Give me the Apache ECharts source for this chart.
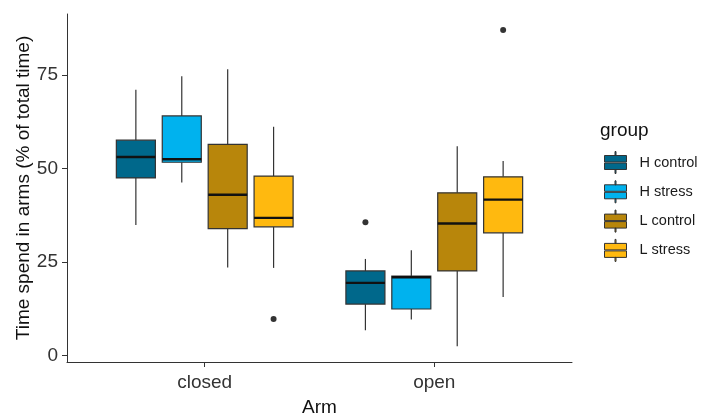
<!DOCTYPE html>
<html><head><meta charset="utf-8">
<script src="https://cdn.jsdelivr.net/npm/echarts@6/dist/echarts.min.js"></script>
<style>html,body{margin:0;padding:0;background:#fff}#c{width:702px;height:414px}</style>
</head><body><div id="c"></div>
<script>
// ---- data ----
const arms = ['closed', 'open'];
const groups = ['H control', 'H stress', 'L control', 'L stress'];
const colors = ['#00688B', '#00B2EE', '#B8860B', '#FFB90F'];
// each entry per arm: [lower whisker, Q1, median, Q3, upper whisker]
const hControl = [[34.9, 47.5, 53.1, 57.6, 71.1], [6.7, 13.7, 19.4, 22.6, 25.8]];
const hStress  = [[46.3, 51.7, 52.5, 64.1, 74.7], [9.6, 12.4, 20.9, 21.2, 28.1]];
const lControl = [[23.5, 33.9, 43.0, 56.5, 76.6], [2.4, 22.6, 35.3, 43.5, 56.0]];
const lStress  = [[23.4, 34.4, 36.8, 48.0, 61.2], [15.6, 32.8, 41.7, 47.8, 52.0]];
// outliers: [arm, group, value]
const outliers = [['closed', 'L stress', 9.7], ['open', 'H control', 35.6], ['open', 'L stress', 87.1]];
const yTicks = [0, 25, 50, 75];

const groupStats = [hControl, hStress, lControl, lStress];
const dodge = 0.2, boxW = 0.17;
const xPos = (armIdx, gIdx) => armIdx + 1 + (gIdx - 1.5) * dodge;
const FONT = 'Liberation Sans, Arial, sans-serif';

const series = groups.map((g, gi) => ({
  name: g,
  type: 'custom',
  itemStyle: { color: colors[gi] },
  data: groupStats[gi].map((s, ai) => [xPos(ai, gi)].concat(s)),
  encode: { x: 0, y: [1, 2, 3, 4, 5] },
  renderItem: function (params, api) {
    const x = api.value(0);
    const pLow = api.coord([x, api.value(1)]);
    const pQ1 = api.coord([x, api.value(2)]);
    const pMed = api.coord([x, api.value(3)]);
    const pQ3 = api.coord([x, api.value(4)]);
    const pHigh = api.coord([x, api.value(5)]);
    const hw = api.size([boxW, 0])[0] / 2;
    const cx = pQ1[0];
    return {
      type: 'group',
      children: [
        { type: 'line', shape: { x1: cx, y1: pHigh[1], x2: cx, y2: pQ3[1] }, style: { stroke: '#333', lineWidth: 1.2 } },
        { type: 'line', shape: { x1: cx, y1: pQ1[1], x2: cx, y2: pLow[1] }, style: { stroke: '#333', lineWidth: 1.2 } },
        { type: 'rect', shape: { x: cx - hw, y: pQ3[1], width: 2 * hw, height: pQ1[1] - pQ3[1] },
          style: { fill: colors[gi], stroke: '#333', lineWidth: 1.2 } },
        { type: 'line', shape: { x1: cx - hw, y1: pMed[1], x2: cx + hw, y2: pMed[1] }, style: { stroke: '#111', lineWidth: 2.4 } }
      ]
    };
  }
}));

series.push({
  name: 'outliers',
  type: 'scatter',
  symbolSize: 6,
  itemStyle: { color: '#000' },
  data: outliers.map(o => [xPos(arms.indexOf(o[0]), groups.indexOf(o[1])), o[2]])
});

const chart = echarts.init(document.getElementById('c'), null, { renderer: 'canvas' });
chart.setOption({
  animation: false,
  backgroundColor: '#fff',
  textStyle: { fontFamily: FONT },
  grid: { left: 67, right: 130, top: 14, bottom: 52, containLabel: false, outerBoundsMode: 'none' },
  xAxis: {
    type: 'value', min: 0.4, max: 2.6,
    name: 'Arm', nameLocation: 'middle', nameGap: 36, nameMoveOverlap: false,
    nameTextStyle: { fontSize: 19, color: '#111', fontFamily: FONT },
    axisLine: { show: true, onZero: false, lineStyle: { color: '#333', width: 1 } },
    axisTick: { show: true, length: 5, lineStyle: { color: '#333' }, customValues: [1, 2] },
    axisLabel: { fontSize: 19, color: '#333', margin: 11, fontFamily: FONT, customValues: [1, 2],
      formatter: v => arms[Math.round(v) - 1] || '' },
    splitLine: { show: false }
  },
  yAxis: {
    type: 'value', min: -1.8, max: 91.4,
    name: 'Time spend in arms (% of total time)', nameLocation: 'middle', nameGap: 34, nameMoveOverlap: false,
    nameTextStyle: { fontSize: 19, color: '#111', fontFamily: FONT },
    axisLine: { show: true, onZero: false, lineStyle: { color: '#333', width: 1 } },
    axisTick: { show: true, length: 5, lineStyle: { color: '#333' }, customValues: yTicks },
    axisLabel: { fontSize: 19, color: '#333', margin: 9, fontFamily: FONT, customValues: yTicks },
    splitLine: { show: false }
  },
  legend: {
    data: groups,
    orient: 'vertical', left: 604, top: 151, padding: 0,
    itemWidth: 22, itemHeight: 22, itemGap: 6.3,
    icon: 'path://M10.5 0H11.5V4H10.5Z M0 4H22V10.5H0Z M0 11.5H22V18H0Z M10.5 18H11.5V22H10.5Z',
    itemStyle: { borderColor: '#333', borderWidth: 1 },
    textStyle: { fontSize: 14.5, color: '#1a1a1a', fontFamily: FONT, padding: [0, 0, 0, 8] }
  },
  graphic: [{
    type: 'text', left: 600, top: 121,
    style: { text: 'group', fontSize: 19, fill: '#111', fontFamily: FONT }
  }],
  series: series
});
</script>
</body></html>
